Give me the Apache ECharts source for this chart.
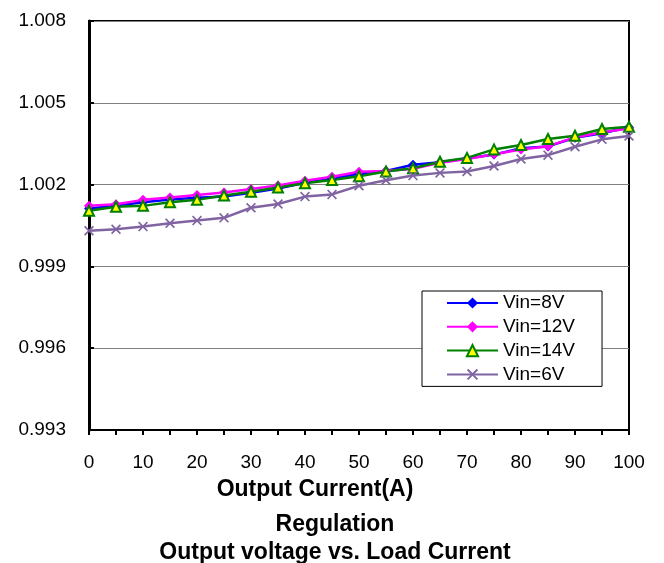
<!DOCTYPE html>
<html>
<head>
<meta charset="utf-8">
<script src="https://cdn.jsdelivr.net/npm/echarts@6/dist/echarts.min.js"></script>
<style>
html,body{margin:0;padding:0;background:#fff;}
#chart{width:664px;height:563px;}
</style>
</head>
<body>
<div id="chart"></div>
<script>
// Data
var current = [0, 5, 10, 15, 20, 25, 30, 35, 40, 45, 50, 55, 60, 65, 70, 75, 80, 85, 90, 95, 100];
var vin8V  = [1.00112, 1.00122, 1.00135, 1.00145, 1.00152, 1.00156, 1.00170, 1.00186, 1.00207, 1.00222, 1.00240, 1.00250, 1.00273, 1.00282, 1.00296, 1.00310, 1.00333, 1.00340, 1.00372, 1.00388, 1.00410];
var vin12V = [1.00122, 1.00128, 1.00144, 1.00153, 1.00162, 1.00171, 1.00184, 1.00197, 1.00214, 1.00229, 1.00247, 1.00250, 1.00258, 1.00280, 1.00294, 1.00311, 1.00329, 1.00341, 1.00373, 1.00392, 1.00406];
var vin14V = [1.00104, 1.00119, 1.00122, 1.00135, 1.00144, 1.00160, 1.00174, 1.00189, 1.00205, 1.00217, 1.00231, 1.00248, 1.00260, 1.00284, 1.00298, 1.00329, 1.00345, 1.00367, 1.00379, 1.00404, 1.00412];
var vin6V  = [1.00031, 1.00036, 1.00046, 1.00058, 1.00068, 1.00078, 1.00115, 1.00129, 1.00156, 1.00164, 1.00196, 1.00216, 1.00233, 1.00243, 1.00248, 1.00268, 1.00294, 1.00308, 1.00339, 1.00366, 1.00378];
var seriesNames = ['Vin=8V', 'Vin=12V', 'Vin=14V', 'Vin=6V'];
var yMin = 0.993, yMax = 1.008, yStep = 0.003;
var xMin = 0, xMax = 100, xStep = 10;
var xTitle = 'Output Current(A)';
var chartTitle = 'Regulation\nOutput voltage vs. Load Current';

function pairs(ys) { return current.map(function (x, i) { return [x, ys[i]]; }); }

var FONT = "'Liberation Sans', Arial, sans-serif";
var crossPath = 'path://M0,1.2 L1.2,0 L5,3.8 L8.8,0 L10,1.2 L6.2,5 L10,8.8 L8.8,10 L5,6.2 L1.2,10 L0,8.8 L3.8,5 Z';

var chart = echarts.init(document.getElementById('chart'), null, {renderer: 'canvas'});
chart.setOption({
  animation: false,
  backgroundColor: '#fff',
  textStyle: {fontFamily: FONT},
  title: {
    text: chartTitle,
    left: 330, top: 506, textAlign: 'center',
    textStyle: {fontFamily: FONT, fontSize: 23, fontWeight: 'bold', color: '#000', lineHeight: 28}
  },
  grid: {
    left: 89, right: 35, top: 21, bottom: 133,
    show: true, borderColor: '#000', borderWidth: 2, backgroundColor: 'transparent'
  },
  legend: {
    data: seriesNames,
    orient: 'vertical',
    left: 422, top: 291,
    padding: [2, 27, 2, 24],
    itemWidth: 51, itemHeight: 14, itemGap: 3.8,
    borderColor: '#000', borderWidth: 1, backgroundColor: '#fff',
    textStyle: {fontFamily: FONT, fontSize: 19, color: '#000', lineHeight: 20, padding: [0,0,0,0]}
  },
  xAxis: {
    type: 'value', min: xMin, max: xMax, interval: xStep,
    name: xTitle, nameLocation: 'middle', nameGap: 48,
    nameTextStyle: {fontFamily: FONT, fontSize: 23, fontWeight: 'bold', color: '#000', padding: [0, 88, 0, 0]},
    axisLine: {show: true, onZero: false, lineStyle: {color: '#000', width: 2}},
    axisTick: {show: true, inside: false, length: 5, lineStyle: {color: '#000', width: 2}},
    minorTick: {show: true, splitNumber: 2, length: 5, lineStyle: {color: '#000', width: 2}},
    axisLabel: {fontFamily: FONT, fontSize: 19, color: '#000', margin: 23},
    splitLine: {show: false}
  },
  yAxis: {
    type: 'value', min: yMin, max: yMax, interval: yStep,
    axisLine: {show: true, lineStyle: {color: '#000', width: 3}},
    axisTick: {show: true, inside: true, length: 5, lineStyle: {color: '#000', width: 2}},
    axisLabel: {fontFamily: FONT, fontSize: 19, color: '#000', margin: 23,
      formatter: function (v) { return v.toFixed(3); }},
    splitLine: {show: true, lineStyle: {color: '#808080', width: 1}}
  },
  series: [
    {
      name: seriesNames[0], type: 'line', data: pairs(vin8V),
      symbol: 'diamond', symbolSize: 10,
      itemStyle: {color: '#0000FF'},
      lineStyle: {color: '#0000FF', width: 2.5}
    },
    {
      name: seriesNames[1], type: 'line', data: pairs(vin12V),
      symbol: 'diamond', symbolSize: 10,
      itemStyle: {color: '#FF00FF'},
      lineStyle: {color: '#FF00FF', width: 2.5}
    },
    {
      name: seriesNames[2], type: 'line', data: pairs(vin14V),
      symbol: 'triangle', symbolSize: 10,
      itemStyle: {color: '#FFFF00', borderColor: '#008000', borderWidth: 2},
      lineStyle: {color: '#008000', width: 2.5}
    },
    {
      name: seriesNames[3], type: 'line', data: pairs(vin6V),
      symbol: crossPath, symbolSize: 10,
      itemStyle: {color: '#8064A2'},
      lineStyle: {color: '#8064A2', width: 2.5}
    }
  ]
});
</script>
</body>
</html>
